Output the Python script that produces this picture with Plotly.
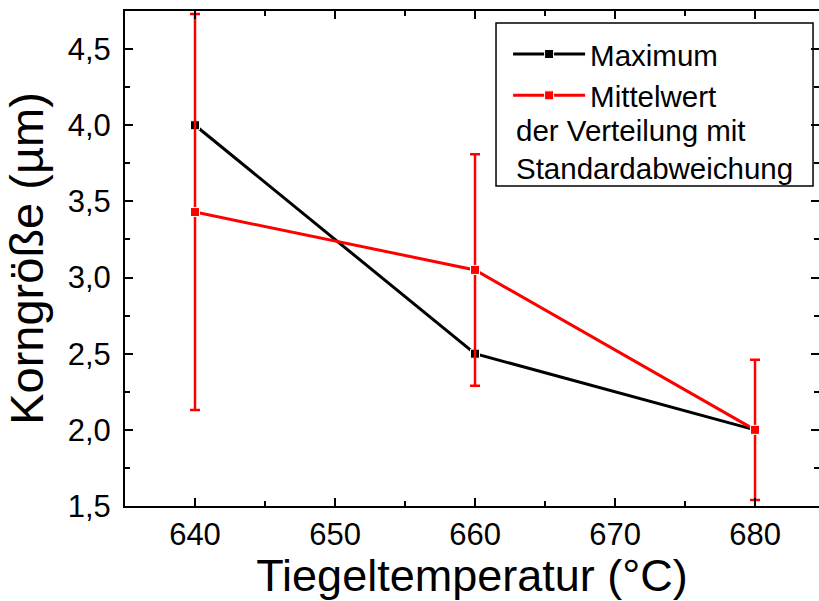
import plotly.graph_objects as go

temps = [640, 660, 680]
maximum = [4.0, 2.5, 2.0]
mittelwert = [3.43, 3.05, 2.0]
std_dev = [1.3, 0.76, 0.46]

y_ticks = [1.5, 2.0, 2.5, 3.0, 3.5, 4.0, 4.5]
x_ticks = [640, 650, 660, 670, 680]

FONT = "Liberation Sans"

fig = go.Figure()
fig.add_trace(go.Scatter(
    x=temps, y=maximum, mode="lines+markers", name="Maximum",
    line=dict(color="black", width=3),
    marker=dict(symbol="square", size=9, color="black",
                line=dict(color="white", width=1)),
))
fig.add_trace(go.Scatter(
    x=temps, y=mittelwert, mode="lines+markers", name="Mittelwert",
    line=dict(color="#ff0000", width=3),
    marker=dict(symbol="square", size=9, color="#ff0000",
                line=dict(color="white", width=1)),
    error_y=dict(type="data", array=std_dev, visible=True,
                 color="#ff0000", thickness=2.5, width=5),
))
# invisible trace to carry right-side ticks
fig.add_trace(go.Scatter(x=[temps[0]], y=[maximum[0]], yaxis="y2",
                         mode="markers", marker=dict(opacity=0),
                         showlegend=False, hoverinfo="skip"))

fig.update_layout(
    width=819, height=601,
    margin=dict(l=125, r=0, t=11, b=95),
    plot_bgcolor="white", paper_bgcolor="white",
    separators=",.",
    font=dict(family=FONT, color="black"),
    showlegend=True,
    legend=dict(
        x=0.552, y=0.965, xanchor="left", yanchor="top",
        font=dict(size=29.5, family=FONT, color="black"),
        bgcolor="rgba(0,0,0,0)", borderwidth=0,
        itemwidth=72, tracegroupgap=0,
    ),
    xaxis=dict(
        range=[635, 684.57],
        tickvals=x_ticks,
        ticks="inside", ticklen=8, tickwidth=1.5, tickcolor="black",
        minor=dict(dtick=5, tick0=635, ticks="inside", ticklen=5, tickwidth=1.5, tickcolor="black"),
        showline=True, linecolor="black", linewidth=2, mirror="ticks",
        showgrid=False, zeroline=False,
        tickfont=dict(size=31, family=FONT),
        title=dict(text="Tiegeltemperatur (°C)", font=dict(size=45, family=FONT), standoff=8),
    ),
    yaxis=dict(
        range=[1.5, 4.75],
        tickvals=y_ticks, tickformat=".1f",
        ticks="inside", ticklen=8, tickwidth=1.5, tickcolor="black",
        minor=dict(dtick=0.25, tick0=1.5, ticks="inside", ticklen=5, tickwidth=1.5, tickcolor="black"),
        showline=True, linecolor="black", linewidth=2, mirror=False,
        showgrid=False, zeroline=False,
        tickfont=dict(size=31, family=FONT),
        ticklabelstandoff=6,
        title=dict(text="Korngröße (µm)", font=dict(size=47, family=FONT), standoff=13),
    ),
    yaxis2=dict(
        overlaying="y", side="right", range=[1.5, 4.75],
        tickvals=y_ticks, showticklabels=False,
        ticks="inside", ticklen=8, tickwidth=1.5, tickcolor="black",
        minor=dict(dtick=0.25, tick0=1.5, ticks="inside", ticklen=5, tickwidth=1.5, tickcolor="black"),
        showline=False, showgrid=False, zeroline=False,
    ),
)

fig.add_annotation(
    xref="paper", yref="paper", x=0.561, y=0.7212,
    xanchor="left", yanchor="middle", align="left", showarrow=False,
    text="der Verteilung mit<br>Standardabweichung",
    font=dict(size=29.5, family=FONT, color="black"),
)
fig.add_shape(
    type="rect", xref="paper", yref="paper",
    x0=0.5346, x1=0.9914, y0=0.6465, y1=0.9758,
    line=dict(color="black", width=1.5), fillcolor="rgba(0,0,0,0)",
)

fig.write_html("out.html")
